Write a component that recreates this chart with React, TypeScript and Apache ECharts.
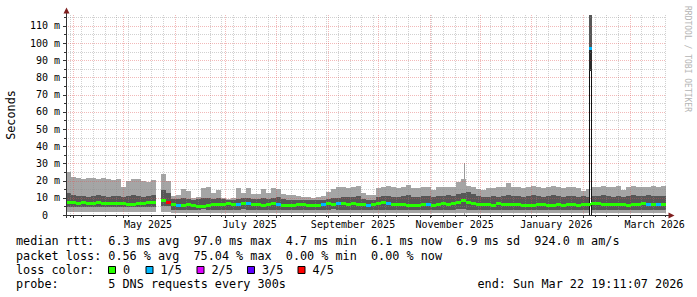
import React, { useEffect, useRef } from 'react';
import * as echarts from 'echarts';

const DAY = 86400000;
const END_TIME = Date.UTC(2026, 2, 22, 19, 11, 7);
const START_TIME = END_TIME - 360 * DAY;
const BUCKET_DAYS = 3;
const Y_MAX = 116.3;

// ---- smoke data, one value per 3-day bucket (120 buckets), milliseconds ----
const maxMs = [
  25, 22, 21.5, 21, 21.5, 21.5, 21, 21.5, 21, 20.5,
  21, 16.5, 20, 21, 21, 20, 19, 20.5, null, 24,
  20, 11, 11.5, 15, 14, 10, 10.5, 15.5, 16.5, 13,
  14.5, 10, 9.5, 10, 15.5, 13, 15.5, 12.5, 12.5, 15,
  13, 15.5, 15, 12.5, 11.5, 11.5, 11, 10.5, 10.5, 10,
  10.5, 11, 13.5, 15, 16, 16.5, 15.5, 16, 17, 13,
  11.5, 11.5, 15.5, 16, 17, 16, 15.5, 16, 17.5, 15.5,
  15.5, 16, 16.5, 14.5, 16.5, 16, 16.5, 16.5, 19, 21,
  17, 16, 15, 14.5, 15.5, 15.5, 16.5, 16, 18.5, 16,
  16, 15.5, 16, 17, 16, 15.5, 16.5, 17, 16, 15.5,
  16, 16.5, 15.5, 14, 15, 16, 16.5, 17, 16.5, 16,
  17, 14.5, 16, 17, 16.5, 16, 16.5, 17, 16.5, 17,
];
const darkHighMs = [
  13, 11.5, 11, 11, 10.5, 11, 11.5, 11, 10.5, 11,
  11, 10.5, 11, 11.5, 11, 10.5, 11, 11.5, null, 14.5,
  13, 9.5, 9.5, 10, 9.5, 9, 9.5, 10, 10, 9.5,
  10, 9.5, 9, 9, 9.5, 10, 10, 9.5, 9.5, 10,
  9.5, 10, 10.5, 9.5, 9, 9, 8.5, 8.5, 8.5, 8.5,
  8.5, 9, 9.5, 10, 10, 10.5, 10.5, 10.5, 11, 9.5,
  8.5, 8.5, 10.5, 11, 11, 10.5, 10.5, 11, 11.5, 10.5,
  10.5, 11, 11, 10.5, 11, 11, 11.5, 11, 12, 13,
  13.5, 12, 11, 10.5, 10.5, 11, 10.5, 11, 11.5, 11,
  11, 10.5, 11, 11.5, 11, 10.5, 11, 11.5, 11, 10.5,
  11, 11, 10.5, 11, 10.5, 11, 11, 11.5, 11, 10.5,
  11, 10.5, 11, 11.5, 11, 11, 11.5, 11, 11, 11,
];
const darkLowMs = [
  4.5, 4.5, 4.5, 4.5, 4.5, 4.5, 4.5, 4.5, 4.5, 4.5,
  4.5, 4.5, 4.5, 4.5, 4.5, 4.5, 4.5, 4.5, null, 5,
  5, 3, 3, 3, 3, 3, 3, 3.5, 3, 3,
  3, 3, 3, 3, 3, 3.5, 3, 3, 3, 3,
  3, 3, 3, 3, 3, 3, 3, 3, 3, 3,
  3, 3, 3, 3.5, 3, 3, 3, 3, 3, 3,
  3, 3, 3, 3, 3, 3, 3, 3, 3, 3,
  3, 3, 3, 3, 3, 3, 3, 3, 3.5, 3.5,
  3, 3, 3, 3, 3, 3, 3, 3, 3, 3,
  3, 3, 3, 3, 3, 3, 3, 3, 3, 3,
  3, 3, 3, 3, 3, 3, 3, 3, 3, 3,
  3, 3, 3, 3, 3, 3, 3, 3, 3, 3,
];
const minMs = [
  1.5, 1.5, 1.5, 1.5, 1.5, 1.5, 1.5, 1.5, 1.5, 1.5,
  1.5, 1.5, 1.5, 1.5, 1.5, 1.5, 1.5, 1.5, null, 2,
  2, 1, 1, 1, 1, 1, 1, 1, 1, 1,
  1, 1, 1, 1, 1, 1, 1, 1, 1, 1,
  1, 1, 1, 1, 1, 1, 1, 1, 1, 1,
  1, 1, 1, 1, 1, 1, 1, 1, 1, 1,
  1, 1, 1, 1, 1, 1, 1, 1, 1, 1,
  1, 1, 1, 1, 1, 1, 1, 1, 1, 1,
  1, 1, 1, 1, 1, 1, 1, 1, 1, 1,
  1, 1, 1, 1, 1, 1, 1, 1, 1, 1,
  1, 1, 1, 1, 1, 1, 1, 1, 1, 1,
  1, 1, 1, 1, 1, 1, 1, 1, 1, 1,
];
const medianMs = [
  7.5, 7, 6.5, 7, 6.5, 6.5, 7, 6.5, 6.5, 6.5,
  6.5, 6.5, 6, 6, 6.5, 6.5, 7, 7.5, null, 8.5,
  7.5, 6, 5.5, 5.5, 6, 5.5, 5, 5, 5.5, 6,
  6, 6, 6.5, 6, 6, 6.5, 6.5, 6, 6, 5.5,
  6, 6.5, 6, 5.5, 5.5, 5.5, 6, 6, 5.5, 5.5,
  5.5, 6, 6.5, 6, 6.5, 6.5, 6, 6.5, 6, 6,
  5.5, 6, 6.5, 7, 6.5, 6, 6, 6, 5.5, 5.5,
  5.5, 6, 6, 5.5, 6, 6.5, 6, 6.5, 7.5, 8.5,
  7, 6.5, 6, 6, 6, 5.5, 6.5, 6, 6, 6,
  6, 5.5, 5.5, 5.5, 6, 6, 5.5, 5.5, 6, 5.5,
  6, 6, 5.5, 6, 6, 6.5, 6.5, 6, 6, 6,
  6, 6, 5.5, 6, 6, 6.5, 6, 6, 6, 6,
];
// buckets with packet loss (index into buckets) and their loss level (n/5)
const lossBuckets = [20, 22, 34, 36, 42, 51, 54, 60, 64, 72, 116, 118];
const lossLevels = [4, 1, 1, 1, 1, 1, 1, 1, 1, 1, 1, 1];

// the February outage spike (days after start) and a thin single peak
const spikeDays = [314.2];
const spikeTopMs = [130];
const spikeMedianMs = [97.0];
const spikeDarkLowMs = [84];
const spikeLoss = [1];
const thinPeakDays = [238.8];
const thinPeakMs = [30];

const lossColors = ['#26ff00', '#00b8ff', '#dd00ff', '#5e00ff', '#ff0000'];
const lossLabels = ['0', '1/5', '2/5', '3/5', '4/5'];

const monthStarts = [
  Date.UTC(2025, 3, 1), Date.UTC(2025, 4, 1), Date.UTC(2025, 5, 1), Date.UTC(2025, 6, 1),
  Date.UTC(2025, 7, 1), Date.UTC(2025, 8, 1), Date.UTC(2025, 9, 1), Date.UTC(2025, 10, 1),
  Date.UTC(2025, 11, 1), Date.UTC(2026, 0, 1), Date.UTC(2026, 1, 1), Date.UTC(2026, 2, 1),
];
const monthLabels = ['May 2025', 'July 2025', 'September 2025', 'November 2025', 'January 2026', 'March 2026'];
const monthLabelTimes = [
  Date.UTC(2025, 4, 16), Date.UTC(2025, 6, 16), Date.UTC(2025, 8, 16),
  Date.UTC(2025, 10, 16), Date.UTC(2026, 0, 16), Date.UTC(2026, 2, 16),
];
const firstSunday = Date.UTC(2025, 2, 30);
const yMajorLines = [10, 20, 30, 40, 50, 60, 70, 80, 90, 100, 110];
const yMinorLines = [5, 15, 25, 35, 45, 55, 65, 75, 85, 95, 105, 115];

const legendRow1 = [['median rtt:', 0], ['6.3 ms avg', 13], ['97.0 ms max', 25], ['4.7 ms min', 38], ['6.1 ms now', 50], ['6.9 ms sd', 62], ['924.0 m am/s', 73]];
const legendRow2 = [['packet loss:', 0], ['0.56 % avg', 13], ['75.04 % max', 25], ['0.00 % min', 38], ['0.00 % now', 50]];
const legendRow4 = [['probe:', 0], ['5 DNS requests every 300s', 13], ['end: Sun Mar 22 19:11:07 2026', 65]];

const MONO = '"DejaVu Sans Mono", "Liberation Mono", monospace';
const LIGHT = '#a5a5a5';
const DARK = '#575757';
const AXIS = '#333333';
const ARROW = '#7f1f1f';
const GRID_MINOR = 'rgba(140,140,140,0.4)';
const GRID_MAJOR = 'rgba(222,79,79,0.4)';

function buildOption() {
  const smoke: number[][] = [];
  const median: number[][] = [];
  for (let i = 0; i < maxMs.length; i++) {
    const t = START_TIME + i * BUCKET_DAYS * DAY;
    if (maxMs[i] != null) smoke.push([t, minMs[i] as number, darkLowMs[i] as number, darkHighMs[i] as number, maxMs[i] as number]);
    if (medianMs[i] != null) {
      const k = lossBuckets.indexOf(i);
      median.push([t, medianMs[i] as number, k >= 0 ? lossLevels[k] : 0]);
    }
  }
  const gridData: number[][] = [];
  for (let t = firstSunday; t < END_TIME; t += 7 * DAY) {
    if (monthStarts.indexOf(t) < 0) gridData.push([t, 0, 0]);
  }
  monthStarts.forEach((t) => gridData.push([t, 0, 1]));
  yMinorLines.forEach((v) => gridData.push([START_TIME, v, 2]));
  yMajorLines.forEach((v) => gridData.push([START_TIME, v, 3]));

  const charW = 7.1;
  const legendFont = { fontFamily: MONO, fontSize: 11.8 };
  const graphics: any[] = [
    { type: 'line', z: 100, shape: { x1: 66.5, y1: 218, x2: 66.5, y2: 13 }, style: { stroke: AXIS, lineWidth: 1 } },
    { type: 'line', z: 100, shape: { x1: 63, y1: 215.5, x2: 669, y2: 215.5 }, style: { stroke: AXIS, lineWidth: 1 } },
    { type: 'polygon', z: 100, shape: { points: [[63.5, 13.5], [69.5, 13.5], [66.5, 7.5]] }, style: { fill: ARROW } },
    { type: 'polygon', z: 100, shape: { points: [[668.5, 212.5], [668.5, 218.5], [674.5, 215.5]] }, style: { fill: ARROW } },
    {
      type: 'text', z: 100, x: 11, y: 115, rotation: Math.PI / 2,
      style: { text: 'Seconds', ...legendFont, fill: '#000', align: 'center', verticalAlign: 'middle', textAlign: 'center', textVerticalAlign: 'middle' },
    },
    {
      type: 'text', z: 100, x: 687.5, y: 59, rotation: -Math.PI / 2,
      style: { text: 'RRDTOOL / TOBI OETIKER', fontFamily: MONO, fontSize: 8, fill: '#b4b4b4', align: 'center', verticalAlign: 'middle', textAlign: 'center', textVerticalAlign: 'middle' },
    },
  ];
  const addRow = (row: any[], y: number) => {
    row.forEach(([txt, col]) => {
      graphics.push({
        type: 'text', z: 100, x: 16 + col * charW, y,
        style: { text: txt, ...legendFont, fill: '#000', align: 'left', verticalAlign: 'middle', textAlign: 'left', textVerticalAlign: 'middle' },
      });
    });
  };
  addRow(legendRow1, 241);
  addRow(legendRow2, 255.6);
  addRow([['loss color:', 0]], 269.8);
  addRow(legendRow4, 284.4);
  const boxX = [108.5, 146, 197, 247.5, 298];
  lossLabels.forEach((lab, k) => {
    graphics.push({ type: 'rect', z: 100, shape: { x: boxX[k], y: 266.5, width: 7, height: 7 }, style: { fill: lossColors[k], stroke: '#000', lineWidth: 1 } });
    graphics.push({
      type: 'text', z: 100, x: boxX[k] + 14.5, y: 269.8,
      style: { text: lab, ...legendFont, fill: '#000', align: 'left', verticalAlign: 'middle', textAlign: 'left', textVerticalAlign: 'middle' },
    });
  });

  return {
    animation: false,
    backgroundColor: '#ffffff',
    grid: { left: 66, right: 31, top: 15, bottom: 82, containLabel: false, outerBoundsMode: 'none' },
    tooltip: { show: false },
    xAxis: {
      type: 'time', min: START_TIME, max: END_TIME,
      axisLine: { show: false }, axisTick: { show: false }, axisLabel: { show: false }, splitLine: { show: false },
    },
    yAxis: {
      type: 'value', min: 0, max: Y_MAX, interval: 10,
      axisLine: { show: false }, axisTick: { show: false }, splitLine: { show: false },
      axisLabel: {
        margin: 6, fontFamily: MONO, fontSize: 10, color: '#000',
        formatter: (v: number) => (v === 0 ? '{z|0}' : Math.abs(v % 10) < 1e-9 ? `${v} m` : ''),
        rich: { z: { fontFamily: MONO, fontSize: 10, color: '#000', padding: [0, 12, 0, 0] } },
      },
    },
    graphic: { elements: graphics },
    series: [
      {
        type: 'custom', name: 'peaks', z: 1, silent: true, clip: true,
        data: thinPeakDays.map((d, i) => [START_TIME + d * DAY, thinPeakMs[i]]),
        renderItem: (params: any, api: any) => {
          const t = api.value(0);
          const x = Math.round(api.coord([t, 0])[0]);
          const y0 = Math.round(api.coord([t, 0])[1]);
          const y1 = Math.round(api.coord([t, api.value(1)])[1]);
          return { type: 'rect', shape: { x, y: y1, width: 1, height: y0 - y1 }, style: { fill: '#9a9a9a' } };
        },
      },
      {
        type: 'custom', name: 'smoke', z: 2, silent: true, clip: true,
        data: smoke,
        renderItem: (params: any, api: any) => {
          const t = api.value(0);
          const xa = Math.round(api.coord([t, 0])[0]);
          const xb = Math.round(api.coord([t + BUCKET_DAYS * DAY, 0])[0]);
          const Y = (v: number) => Math.round(api.coord([t, v])[1]);
          const lo = Y(api.value(1)), dl = Y(api.value(2)), dh = Y(api.value(3)), hi = Y(api.value(4));
          return {
            type: 'group',
            children: [
              { type: 'rect', shape: { x: xa, y: hi, width: xb - xa, height: lo - hi }, style: { fill: LIGHT } },
              { type: 'rect', shape: { x: xa, y: dh, width: xb - xa, height: dl - dh }, style: { fill: DARK } },
            ],
          };
        },
      },
      {
        type: 'custom', name: 'spike', z: 3, silent: true, clip: true,
        data: spikeDays.map((d, i) => [START_TIME + d * DAY, spikeTopMs[i], spikeMedianMs[i], spikeDarkLowMs[i], spikeLoss[i]]),
        renderItem: (params: any, api: any) => {
          const t = api.value(0);
          const x = Math.round(api.coord([t, 0])[0]);
          const Y = (v: number) => Math.round(api.coord([t, v])[1]);
          const top = Y(api.value(1)), med = Y(api.value(2)), dlo = Y(api.value(3)), base = Y(0);
          return {
            type: 'group',
            children: [
              { type: 'rect', shape: { x: x - 1, y: top, width: 3, height: med - top }, style: { fill: DARK } },
              { type: 'rect', shape: { x: x - 1, y: med, width: 3, height: dlo - med }, style: { fill: '#2a2a2a' } },
              { type: 'rect', shape: { x: x, y: dlo, width: 1, height: base - dlo }, style: { fill: '#ffffff' } },
              { type: 'rect', shape: { x: x - 1, y: dlo, width: 1, height: base - dlo }, style: { fill: '#111111' } },
              { type: 'rect', shape: { x: x + 1, y: dlo, width: 1, height: base - dlo }, style: { fill: '#111111' } },
              { type: 'rect', shape: { x: x - 1, y: med - 1, width: 3, height: 3 }, style: { fill: lossColors[api.value(4)] } },
            ],
          };
        },
      },
      {
        type: 'custom', name: 'grid', z: 4, silent: true, clip: false,
        data: gridData,
        renderItem: (params: any, api: any) => {
          const cs = params.coordSys;
          const kind = api.value(2);
          const bottom = cs.y + cs.height;
          if (kind < 2) {
            const x = Math.round(api.coord([api.value(0), 0])[0]) + 0.5;
            return {
              type: 'group',
              children: [
                { type: 'line', shape: { x1: x, y1: cs.y, x2: x, y2: bottom }, style: { stroke: kind ? GRID_MAJOR : GRID_MINOR, lineWidth: 1, lineDash: [1, 1] } },
                { type: 'line', shape: { x1: x, y1: bottom, x2: x, y2: bottom + (kind ? 3 : 2) }, style: { stroke: AXIS, lineWidth: 1 } },
              ],
            };
          }
          const y = Math.round(api.coord([api.value(0), api.value(1)])[1]) + 0.5;
          return {
            type: 'group',
            children: [
              { type: 'line', shape: { x1: cs.x, y1: y, x2: cs.x + cs.width, y2: y }, style: { stroke: kind === 3 ? GRID_MAJOR : GRID_MINOR, lineWidth: 1, lineDash: [1, 1] } },
              { type: 'line', shape: { x1: cs.x - (kind === 3 ? 3 : 2), y1: y, x2: cs.x, y2: y }, style: { stroke: AXIS, lineWidth: 1 } },
            ],
          };
        },
      },
      {
        type: 'custom', name: 'median', z: 5, silent: true, clip: true,
        data: median,
        renderItem: (params: any, api: any) => {
          const t = api.value(0);
          const xa = Math.round(api.coord([t, 0])[0]);
          const xb = Math.round(api.coord([t + BUCKET_DAYS * DAY, 0])[0]);
          const yc = api.coord([t, api.value(1)])[1];
          return { type: 'rect', shape: { x: xa, y: Math.round(yc - 1.5), width: xb - xa, height: 3 }, style: { fill: lossColors[api.value(2)] } };
        },
      },
      {
        type: 'custom', name: 'xlabels', z: 6, silent: true, clip: false,
        data: monthLabelTimes.map((t, i) => [t, i]),
        renderItem: (params: any, api: any) => {
          const cs = params.coordSys;
          const x = api.coord([api.value(0), 0])[0];
          return {
            type: 'text', x, y: cs.y + cs.height + 9.5,
            style: { text: monthLabels[api.value(1)], fontFamily: MONO, fontSize: 10, fill: '#000', align: 'center', verticalAlign: 'middle', textAlign: 'center', textVerticalAlign: 'middle' },
          };
        },
      },
    ],
  };
}

export default function App() {
  const ref = useRef<HTMLDivElement>(null);
  useEffect(() => {
    document.body.style.margin = '0';
    const chart = echarts.init(ref.current as HTMLDivElement, null, { renderer: 'svg' });
    chart.setOption(buildOption() as any);
    return () => chart.dispose();
  }, []);
  return <div ref={ref} style={{ width: 697, height: 297, background: '#fff' }} />;
}
